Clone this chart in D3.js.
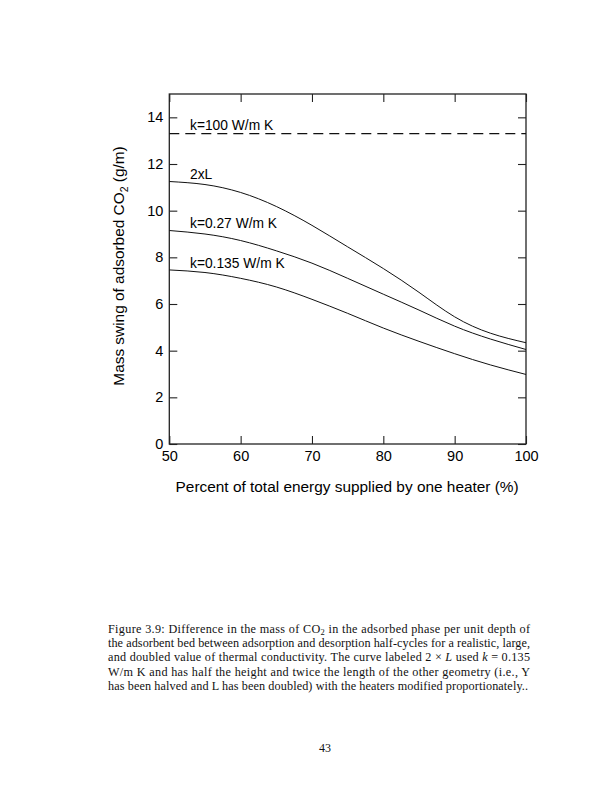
<!DOCTYPE html>
<html>
<head>
<meta charset="utf-8">
<script src="https://cdn.jsdelivr.net/npm/d3@7"></script>
<style>
  html, body { margin: 0; padding: 0; background: #fff; }
  svg { display: block; }
</style>
</head>
<body>
<script>
// ---- data ----
const percent = [50, 55, 60, 65, 70, 75, 80, 85, 90, 95, 100];
const twoL    = [11.25, 11.12, 10.78, 10.18, 9.37, 8.45, 7.52, 6.5, 5.45, 4.75, 4.34];
const k027    = [9.15, 9.0, 8.72, 8.28, 7.75, 7.1, 6.42, 5.74, 5.05, 4.5, 4.05];
const k0135   = [7.46, 7.35, 7.1, 6.73, 6.2, 5.6, 4.97, 4.4, 3.87, 3.39, 2.98];
const k100X   = [50, 100];
const k100    = [13.3, 13.3];
const xTicks  = [50, 60, 70, 80, 90, 100];
const yTicks  = [0, 2, 4, 6, 8, 10, 12, 14];
const labels  = [
  {text: "k=100 W/m K",   x: 52.9, y: 13.46},
  {text: "2xL",           x: 52.9, y: 11.35},
  {text: "k=0.27 W/m K",  x: 52.9, y: 9.24},
  {text: "k=0.135 W/m K", x: 52.9, y: 7.53}
];
const xTitle = "Percent of total energy supplied by one heater (%)";
const captionLines = [
  "Figure 3.9: Difference in the mass of CO|2| in the adsorbed phase per unit depth of",
  "the adsorbent bed between adsorption and desorption half-cycles for a realistic, large,",
  "and doubled value of thermal conductivity. The curve labeled 2 × *L* used *k* = 0.135",
  "W/m K and has half the height and twice the length of the other geometry (i.e., Y",
  "has been halved and L has been doubled) with the heaters modified proportionately.."
];

// ---- layout ----
const W = 612, H = 792;
const L0 = 169.3, R0 = 526, T0 = 94, B0 = 444;
const svg = d3.select("body").append("svg").attr("width", W).attr("height", H);
const x = d3.scaleLinear().domain([50, 100]).range([L0, R0]);
const y = d3.scaleLinear().domain([0, 15]).range([B0, T0]);
const sans = "'Liberation Sans', Arial, Helvetica, sans-serif";
const tickLen = 8;

// axes
const gB = svg.append("g").attr("transform", `translate(0,${B0})`)
  .call(d3.axisBottom(x).tickValues(xTicks).tickSize(-tickLen).tickPadding(7).tickFormat(d3.format("d")));
const gT = svg.append("g").attr("transform", `translate(0,${T0})`)
  .call(d3.axisTop(x).tickValues(xTicks).tickSize(-tickLen).tickFormat(""));
const gL = svg.append("g").attr("transform", `translate(${L0},0)`)
  .call(d3.axisLeft(y).tickValues(yTicks).tickSize(-tickLen).tickPadding(6).tickFormat(d3.format("d")));
const gR = svg.append("g").attr("transform", `translate(${R0},0)`)
  .call(d3.axisRight(y).tickValues(yTicks).tickSize(-tickLen).tickFormat(""));
[gB, gT, gL, gR].forEach(g => {
  g.select(".domain").remove();
  g.selectAll(".tick line").attr("stroke", "#222").attr("stroke-width", 1.1);
  g.selectAll(".tick text").attr("fill", "#000").style("font-family", sans).style("font-size", "14.5px");
});

// frame
svg.append("rect").attr("x", L0).attr("y", T0).attr("width", R0 - L0).attr("height", B0 - T0)
  .attr("fill", "none").attr("stroke", "#222").attr("stroke-width", 1.3);

// lines
const line = d3.line().x(d => x(d[0])).y(d => y(d[1])).curve(d3.curveNatural);
[twoL, k027, k0135].forEach(s => {
  svg.append("path").datum(percent.map((p, i) => [p, s[i]]))
    .attr("d", line).attr("fill", "none").attr("stroke", "#111").attr("stroke-width", 1);
});
svg.append("path").datum(k100X.map((p, i) => [p, k100[i]]))
  .attr("d", d3.line().x(d => x(d[0])).y(d => y(d[1])))
  .attr("fill", "none").attr("stroke", "#111").attr("stroke-width", 1.1)
  .attr("stroke-dasharray", "10,6");

// curve labels
svg.selectAll("text.lab").data(labels).enter().append("text").attr("class", "lab")
  .attr("x", d => x(d.x)).attr("y", d => y(d.y))
  .style("font-family", sans).style("font-size", "13.8px").attr("fill", "#000")
  .text(d => d.text);

// axis titles
svg.append("text").attr("x", (L0 + R0) / 2 - 0.5).attr("y", 492).attr("text-anchor", "middle")
  .style("font-family", sans).style("font-size", "15.4px").text(xTitle);
const yt = svg.append("text").attr("transform", "translate(124,266) rotate(-90)").attr("text-anchor", "middle")
  .style("font-family", sans).style("font-size", "15.4px");
yt.append("tspan").text("Mass swing of adsorbed CO");
yt.append("tspan").attr("dy", 4).style("font-size", "10.5px").text("2");
yt.append("tspan").attr("dy", -4).text(" (g/m)");

// caption
const serif = "'Liberation Serif', 'Times New Roman', serif";
captionLines.forEach((ln, i) => {
  const t = svg.append("text").attr("x", 108).attr("y", 632.5 + i * 14.4)
    .style("font-family", serif).style("font-size", "12.2px").attr("fill", "#111")
    .attr("textLength", i < 4 ? 422 : 420).attr("lengthAdjust", "spacing");
  const parts = ln.split(/(\|[^|]+\||\*[^*]+\*)/).filter(s => s.length);
  let shifted = false;
  parts.forEach(p => {
    if (p.startsWith("|")) {
      t.append("tspan").attr("dy", 2.5).style("font-size", "8.5px").text(p.slice(1, -1));
      shifted = true;
    } else if (p.startsWith("*")) {
      const s = t.append("tspan").style("font-style", "italic").text(p.slice(1, -1));
      if (shifted) { s.attr("dy", -2.5); shifted = false; }
    } else {
      const s = t.append("tspan").text(p);
      if (shifted) { s.attr("dy", -2.5); shifted = false; }
    }
  });
});

// page number
svg.append("text").attr("x", 325).attr("y", 752).attr("text-anchor", "middle")
  .style("font-family", serif).style("font-size", "12px").attr("fill", "#111").text("43");
</script>
</body>
</html>
